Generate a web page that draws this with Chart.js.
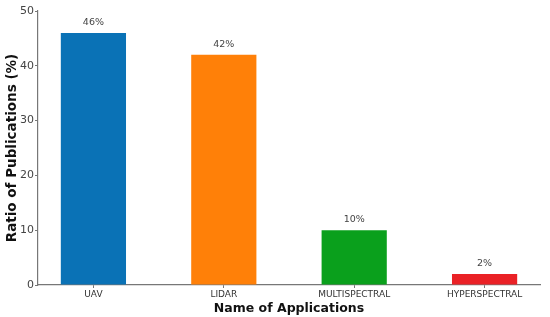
<html>
  <head>
    <title>Applications</title>
    <style>
      body { margin: 0; background: #fff; }
    </style>
  </head>
  <body>
    <canvas id="myChart" width="550" height="317"></canvas>
  </body>
</html>

<script src="https://cdn.jsdelivr.net/npm/chart.js"></script>
<script>
  var categories = ['UAV', 'LIDAR', 'MULTISPECTRAL', 'HYPERSPECTRAL'];
  var ratios = [46, 42, 10, 2];
  var barColors = ['#0a72b6', '#ff8008', '#0aa01c', '#ea2126'];
  var yTicks = [0, 10, 20, 30, 40, 50];

  // percentage labels over the bars
  const valueLabels = {
    id: 'valueLabels',
    afterDatasetsDraw(chart) {
      const ctx = chart.ctx;
      const meta = chart.getDatasetMeta(0);
      ctx.save();
      ctx.font = '9.5px "DejaVu Sans"';
      ctx.fillStyle = '#444';
      ctx.textAlign = 'center';
      ctx.textBaseline = 'bottom';
      meta.data.forEach((bar, i) => {
        ctx.fillText(ratios[i] + '%', bar.x, bar.y - 6);
      });
      ctx.restore();
    }
  };

  const ctx = document.getElementById('myChart').getContext('2d');
  const myChart = new Chart(ctx, {
    type: 'bar',
    data: {
      datasets: [{
        data: ratios.map((v, i) => ({ x: i, y: v })),
        backgroundColor: barColors,
        barPercentage: 0.5,
        categoryPercentage: 1
      }]
    },
    options: {
      responsive: false,
      animation: false,
      layout: { padding: { left: 0, right: 10, top: 11, bottom: 0 } },
      plugins: {
        legend: { display: false },
        tooltip: { enabled: false }
      },
      scales: {
        x: {
          type: 'linear',
          offset: false,
          min: -0.425,
          max: 3.425,
          afterBuildTicks: (scale) => {
            scale.ticks = categories.map((c, i) => ({ value: i }));
          },
          afterFit: (scale) => { scale.height = 32; },
          grid: {
            offset: false,
            drawOnChartArea: false,
            drawTicks: true,
            tickLength: 3,
            color: '#777'
          },
          border: { color: '#777', width: 1.2 },
          ticks: {
            autoSkip: false,
            maxRotation: 0,
            padding: 1,
            color: '#333',
            font: { family: 'DejaVu Sans', size: 9 },
            callback: (v) => categories[v]
          },
          title: {
            display: true,
            text: 'Name of Applications',
            color: '#111',
            padding: { top: 0, bottom: 1 },
            font: { family: 'DejaVu Sans', size: 12.5, weight: 'bold' }
          }
        },
        y: {
          min: 0,
          max: 50,
          afterBuildTicks: (scale) => {
            scale.ticks = yTicks.map(v => ({ value: v }));
          },
          afterFit: (scale) => { scale.width = 38; },
          grid: {
            drawOnChartArea: false,
            drawTicks: true,
            tickLength: 3,
            color: '#777'
          },
          border: { color: '#777', width: 1.2 },
          ticks: {
            padding: 1,
            color: '#444',
            font: { family: 'DejaVu Sans', size: 11 }
          },
          title: {
            display: true,
            text: 'Ratio of Publications (%)',
            color: '#111',
            padding: { top: 4, bottom: 0 },
            font: { family: 'DejaVu Sans', size: 13.5, weight: 'bold' }
          }
        }
      }
    },
    plugins: [valueLabels]
  });
</script>
